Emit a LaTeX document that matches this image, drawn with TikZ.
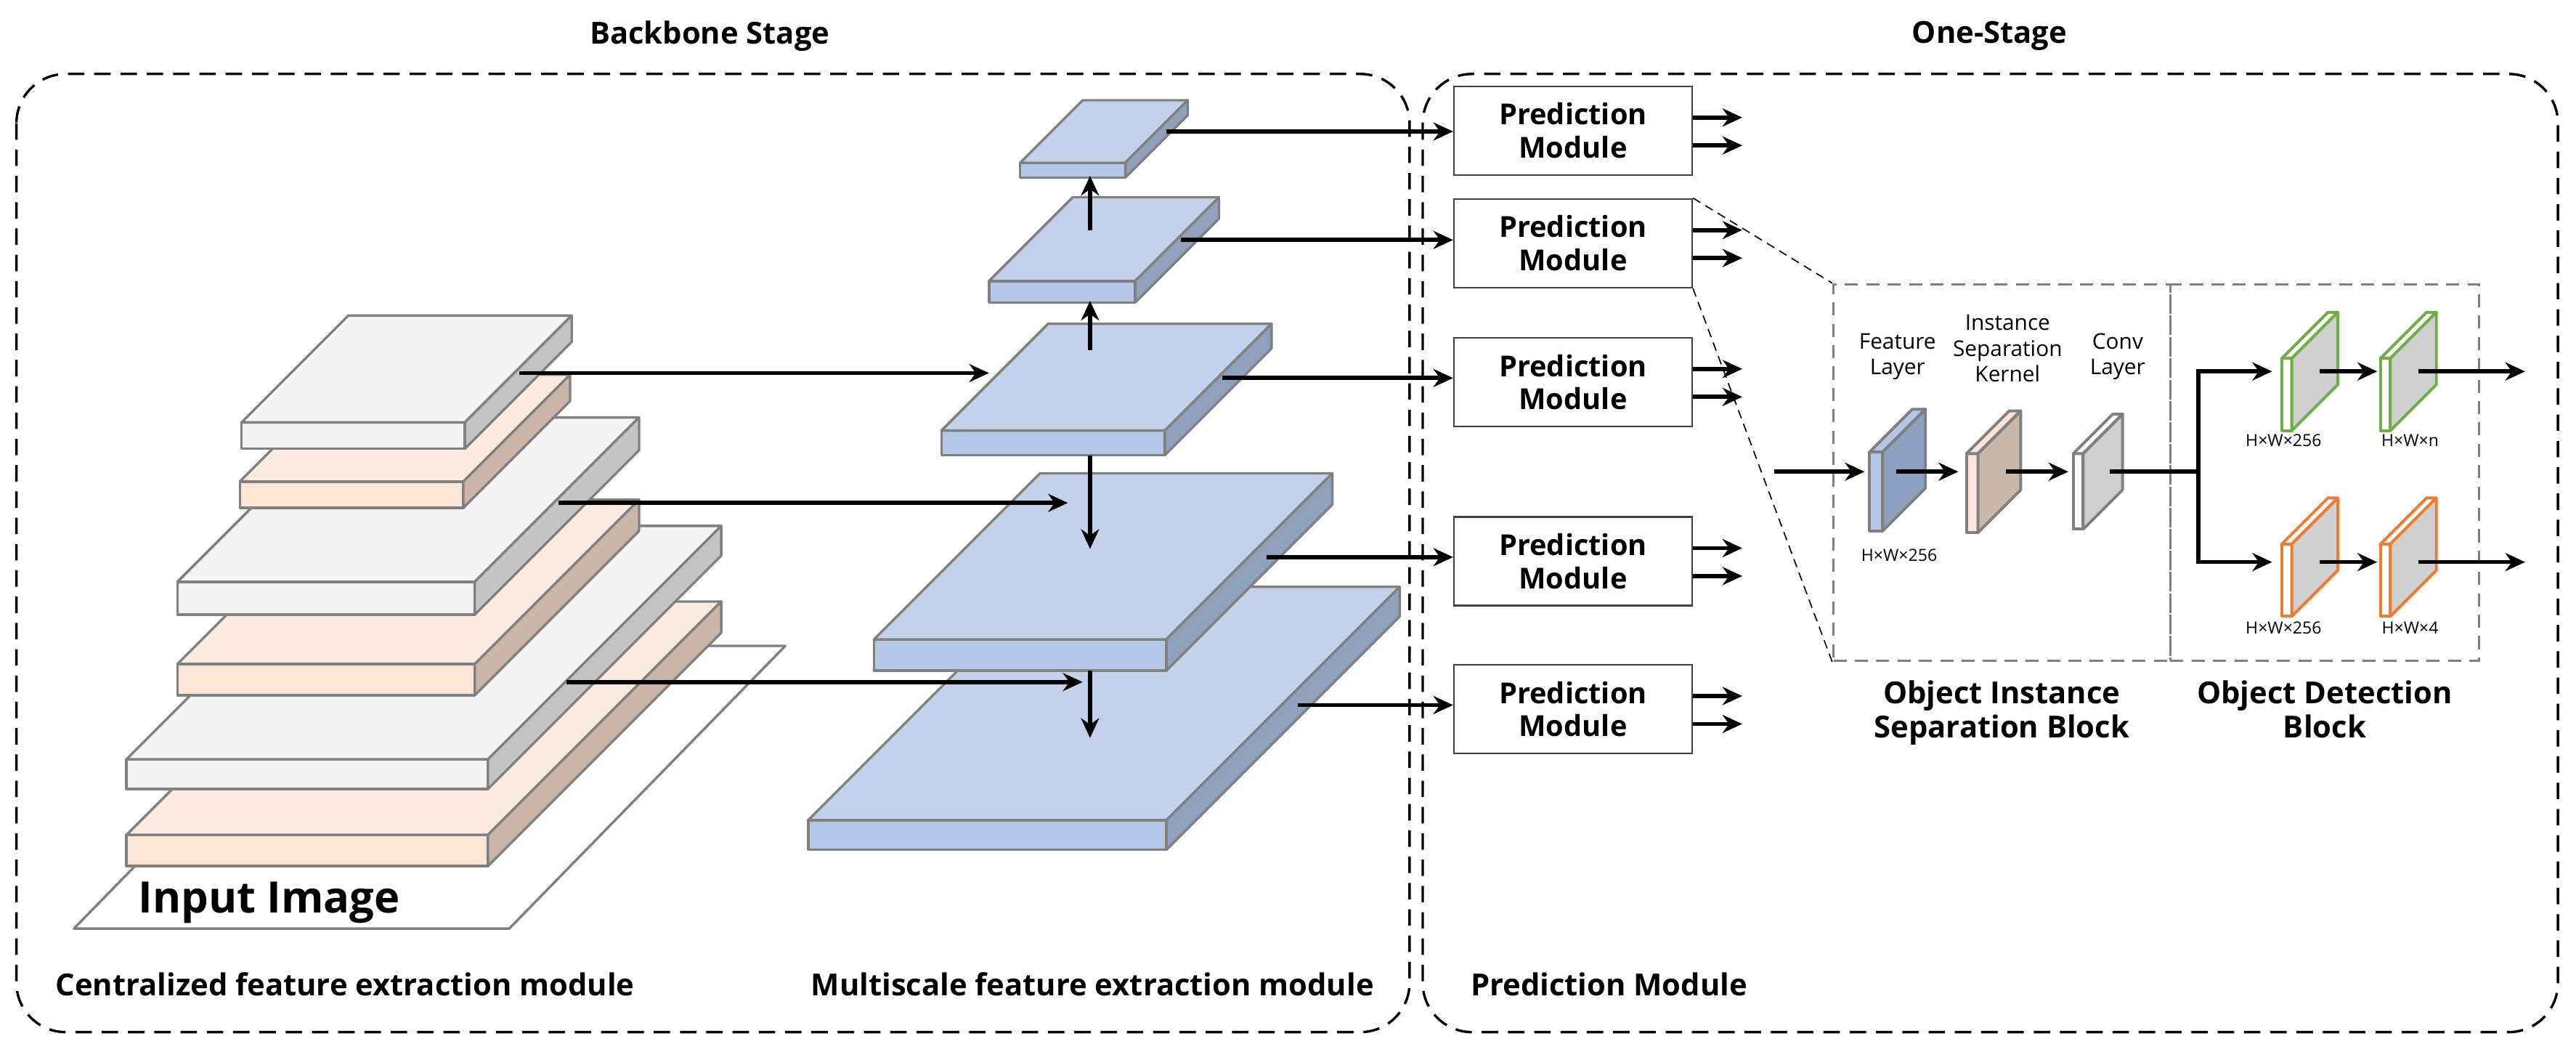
\documentclass[tikz,border=0pt]{standalone}
\usepackage{fontspec}
\setmainfont{Open Sans}
\usetikzlibrary{arrows.meta,positioning}

\definecolor{edgegray}{HTML}{808080}
\definecolor{grayfront}{HTML}{F2F2F2}
\definecolor{graytop}{HTML}{F5F5F5}
\definecolor{grayside}{HTML}{C4C4C4}
\definecolor{peachfront}{HTML}{FBE5D6}
\definecolor{peachtop}{HTML}{FCEBE0}
\definecolor{peachside}{HTML}{C9B6A9}
\definecolor{bluefront}{HTML}{B4C7E7}
\definecolor{bluetop}{HTML}{C3D2EA}
\definecolor{blueside}{HTML}{8FA1BD}
\definecolor{featside}{HTML}{8EA0BF}
\definecolor{kernside}{HTML}{C9B8AA}
\definecolor{plateside}{HTML}{D0D0D0}
\definecolor{greenedge}{HTML}{70AD47}
\definecolor{orangeedge}{HTML}{ED7D31}

% slab: x1, x2, y1 (top of front), y2 (bottom of front), depth, front, top, side
\newcommand{\featslab}[8]{%
  \filldraw[slab, fill=#6] (#1,#3) rectangle (#2,#4);
  \filldraw[slab, fill=#7] (#1,#3) -- (#2,#3) -- ++(#5,-#5) -- ([shift={(#5,-#5)}]#1,#3) -- cycle;
  \filldraw[slab, fill=#8] (#2,#3) -- ++(#5,-#5) -- ([shift={(#5,-#5)}]#2,#4) -- (#2,#4) -- cycle;
}
% thin plate: x, y (top), width, height, depth, edge, front, side
\newcommand{\thinplate}[8]{%
  \begin{scope}[draw=#6, line width=0.35mm, line join=round]
    \filldraw[fill=#7] (#1,#2) rectangle ++(#3,#4);
    \filldraw[fill=#7] (#1,#2) -- ++(#5,-#5) -- ++(#3,0) -- ([xshift=#3*0.2mm]#1,#2) -- cycle;
    \filldraw[fill=#8] ([xshift=#3*0.2mm]#1,#2) -- ++(#5,-#5) -- ++(0,#4) -- ++(-#5,#5) -- cycle;
  \end{scope}
}

\begin{document}
\begin{tikzpicture}[x=0.2mm, y=-0.2mm,
    slab/.style={draw=edgegray, line width=0.3mm, line join=round},
    stage/.style={draw, dashed, line width=0.3mm, rounded corners=6mm, dash pattern=on 2mm off 1.2mm},
    blk/.style={draw=gray, dashed, line width=0.3mm, dash pattern=on 1.6mm off 1mm},
    pm/.style={draw=black!75, line width=0.2mm, minimum width=29mm, minimum height=10.8mm,
               align=center, font=\bfseries\fontsize{10}{11.5}\selectfont, inner sep=0pt},
    arr/.style={-{Stealth[length=2.4mm, width=2.2mm]}, line width=0.5mm},
    title/.style={font=\bfseries\fontsize{10.5}{12}\selectfont},
    lbl/.style={font=\fontsize{7.5}{9}\selectfont, align=center, inner sep=0pt},
    dim/.style={font=\fontsize{5.8}{7}\selectfont, inner sep=0pt}
  ]
  \useasboundingbox (0,0) rectangle (1568,640);

  % stages
  \draw[stage] (10,45) rectangle (858,628);
  \draw[stage] (866,45) rectangle (1557,628);
  \node[title] (bbtitle) at (432,22) {Backbone Stage};
  \node[title] (ostitle) at (1211,22) {One-Stage};
  \node[title] (cfe) at (210,599) {Centralized feature extraction module};
  \node[title] (mfe) at (665,599) {Multiscale feature extraction module};
  \node[title, anchor=west] (pmlabel) at (889,599) {Prediction Module};

  % input image
  \filldraw[slab, fill=white] (45,565) -- (310,565) -- (478,393) -- (213,393) -- cycle;
  \node[font=\bfseries\fontsize{15}{18}\selectfont, anchor=west] (input) at (78,549) {Input Image};

  % centralized pyramid
  \featslab{77}{297}{508}{527}{142}{peachfront}{peachtop}{peachside}
  \featslab{77}{297}{462}{480}{142}{grayfront}{graytop}{grayside}
  \featslab{108}{289}{404}{423}{100}{peachfront}{peachtop}{peachside}
  \featslab{108}{289}{354}{374}{100}{grayfront}{graytop}{grayside}
  \featslab{146}{282}{293}{309}{65}{peachfront}{peachtop}{peachside}
  \featslab{147}{283}{257}{273}{65}{grayfront}{graytop}{grayside}

  % multiscale pyramid
  \featslab{492}{710}{499}{517}{142}{bluefront}{bluetop}{blueside}
  \featslab{532}{710}{389}{408}{101}{bluefront}{bluetop}{blueside}
  \featslab{573}{709}{262}{277}{65}{bluefront}{bluetop}{blueside}
  \featslab{602}{691}{171}{184}{51}{bluefront}{bluetop}{blueside}
  \featslab{621}{685}{99}{108}{38}{bluefront}{bluetop}{blueside}

  % lateral links
  \coordinate (c1) at (316,227);  \coordinate (m3in) at (602,227);
  \coordinate (c2) at (340,306);  \coordinate (m4in) at (650,306);
  \coordinate (c3) at (345,415);  \coordinate (m5in) at (659,415);
  \draw[arr] (c1) -- (m3in);
  \draw[arr] (c2) -- (m4in);
  \draw[arr] (c3) -- (m5in);

  % vertical links
  \coordinate (m2top) at (663.5,140); \coordinate (m1bot) at (663.5,107);
  \coordinate (m3top) at (663.5,213); \coordinate (m2bot) at (663.5,183);
  \coordinate (m3bot) at (663.5,277); \coordinate (m4mid) at (663.5,334);
  \coordinate (m4bot) at (663.5,408); \coordinate (m5mid) at (663.5,449);
  \draw[arr] (m2top) -- (m1bot);
  \draw[arr] (m3top) -- (m2bot);
  \draw[arr] (m3bot) -- (m4mid);
  \draw[arr] (m4bot) -- (m5mid);

  % prediction modules
  \node[pm] (pm1) at (957.5,79.5) {Prediction\\Module};
  \node[pm] (pm2) at (957.5,148) {Prediction\\Module};
  \node[pm] (pm3) at (957.5,232.5) {Prediction\\Module};
  \node[pm] (pm4) at (957.5,341.5) {Prediction\\Module};
  \node[pm] (pm5) at (957.5,431.5) {Prediction\\Module};
  \coordinate (m1out) at (710,80);
  \coordinate (m2out) at (719,146);
  \coordinate (m3out) at (744,230);
  \coordinate (m4out) at (771,339);
  \coordinate (m5out) at (790,429);
  \foreach \i in {1,...,5} {
    \draw[arr] (m\i out) -- (m\i out -| pm\i.west);
    \draw[arr] ([yshift=1.6mm]pm\i.east) -- ++(30,0);
    \draw[arr] ([yshift=-1.8mm]pm\i.east) -- ++(30,0);
  }

  % detail blocks
  \node[blk, minimum width=41mm, minimum height=45.8mm] (isb) at (1218.5,287.5) {};
  \node[blk, minimum width=37.6mm, minimum height=45.8mm] (odb) at (1415,287.5) {};
  \draw[densely dashed, line width=0.15mm] (pm2.north east) -- (isb.north west);
  \draw[densely dashed, line width=0.15mm] (pm2.south east) -- (isb.south west);
  \node[title, align=center, below=1mm of isb] (isbl) {Object Instance\\Separation Block};
  \node[title, align=center, below=1mm of odb] (odbl) {Object Detection\\Block};

  % plates
  \thinplate{1138}{275}{8}{48}{26}{edgegray}{bluefront}{featside}
  \thinplate{1197}{276}{7}{48}{26}{edgegray}{peachfront}{kernside}
  \thinplate{1262}{276}{6}{46}{24}{edgegray}{white}{plateside}
  \thinplate{1389}{218}{6}{44}{28}{greenedge}{white}{plateside}
  \thinplate{1449}{218}{6}{44}{28}{greenedge}{white}{plateside}
  \thinplate{1389}{331}{6}{44}{28}{orangeedge}{white}{plateside}
  \thinplate{1449}{331}{6}{44}{28}{orangeedge}{white}{plateside}

  \node[lbl] (featl) at (1155,217) {Feature\\Layer};
  \node[lbl] (kernl) at (1222,212) {Instance\\Separation\\Kernel};
  \node[lbl] (convl) at (1289,217) {Conv\\Layer};
  \node[dim] (d1) at (1156,338) {H×W×256};
  \node[dim] (d2) at (1390,268) {H×W×256};
  \node[dim] (d3) at (1467,268) {H×W×n};
  \node[dim] (d4) at (1390,382) {H×W×256};
  \node[dim] (d5) at (1467,382) {H×W×4};

  % inner arrows
  \coordinate (in0) at (1080,287);  \coordinate (feat) at (1135,287);
  \coordinate (f1) at (1154,287);   \coordinate (kern) at (1192,287);
  \coordinate (k1) at (1221,287);   \coordinate (conv) at (1259,287);
  \coordinate (c0) at (1284,287);   \coordinate (split) at (1338,287);
  \coordinate (gin) at (1383,226);  \coordinate (oin) at (1383,342);
  \coordinate (g1) at (1412,226);   \coordinate (g2) at (1447,226);
  \coordinate (o1) at (1412,342);   \coordinate (o2) at (1447,342);
  \coordinate (g3) at (1472,226);   \coordinate (gout) at (1537,226);
  \coordinate (o3) at (1472,342);   \coordinate (oout) at (1537,342);
  \draw[arr] (in0) -- (feat);
  \draw[arr] (f1) -- (kern);
  \draw[arr] (k1) -- (conv);
  \draw[line width=0.5mm] (c0) -- (split);
  \draw[arr] (split) |- (gin);
  \draw[arr] (split) |- (oin);
  \draw[arr] (g1) -- (g2);
  \draw[arr] (o1) -- (o2);
  \draw[arr] (g3) -- (gout);
  \draw[arr] (o3) -- (oout);
\end{tikzpicture}
\end{document}
